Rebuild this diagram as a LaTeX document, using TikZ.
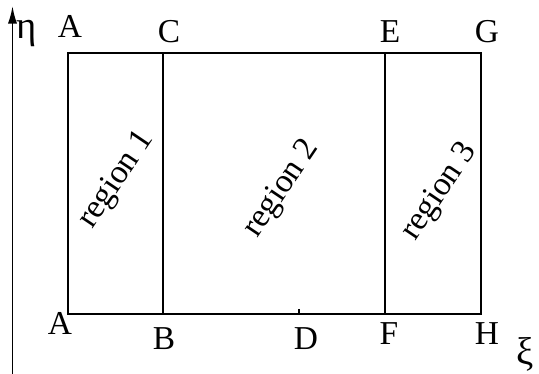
\documentclass[tikz,border=0pt]{standalone}
\usepackage{fontspec}
\setmainfont{Liberation Serif}
\usetikzlibrary{arrows.meta}
\tikzset{lbl/.style={anchor=base,inner sep=0pt},
  greek/.style={lbl,font=\fontsize{11}{13}\selectfont},
  reg/.style={rotate=56,inner sep=0pt}}
\begin{document}
\begin{tikzpicture}[x=0.01cm,y=-0.01cm,line width=0.5pt,font=\fontsize{9.5}{11}\selectfont]
\useasboundingbox (0,0) rectangle (539,374);
% corners of the domain
\coordinate (A1) at (68,53);
\coordinate (C) at (163,53);
\coordinate (E) at (385,53);
\coordinate (G) at (481,53);
\coordinate (A2) at (68,314);
\coordinate (B) at (163,314);
\coordinate (D) at (299,314);
\coordinate (F) at (385,314);
\coordinate (H) at (481,314);
\coordinate (Dt) at (299,309);
\coordinate (ax0) at (12.5,374);
\coordinate (ax1) at (12.5,6);
\draw[-{Latex[length=5pt,width=2.6pt]}] (ax0)--(ax1);
\draw (A1)--(G)--(H)--(A2)--cycle;
\draw (C)--(B);
\draw (E)--(F);
\draw (Dt)--(D);
% labels
\node[greek] (eta) at (27,39) {η};
\node[lbl] (lA1) at (70,38) {A};
\node[lbl] (lC) at (169,43) {C};
\node[lbl] (lE) at (390,43) {E};
\node[lbl] (lG) at (487,43) {G};
\node[lbl] (lA2) at (60,335) {A};
\node[lbl] (lB) at (164,350) {B};
\node[lbl] (lD) at (306,350) {D};
\node[lbl] (lF) at (389,345) {F};
\node[lbl] (lH) at (487,345) {H};
\node[greek] (xi) at (525,365) {ξ};
\node[reg] (r1) at (117,180) {region 1};
\node[reg] (r2) at (282,189) {region 2};
\node[reg] (r3) at (440,192) {region 3};
\end{tikzpicture}
\end{document}
